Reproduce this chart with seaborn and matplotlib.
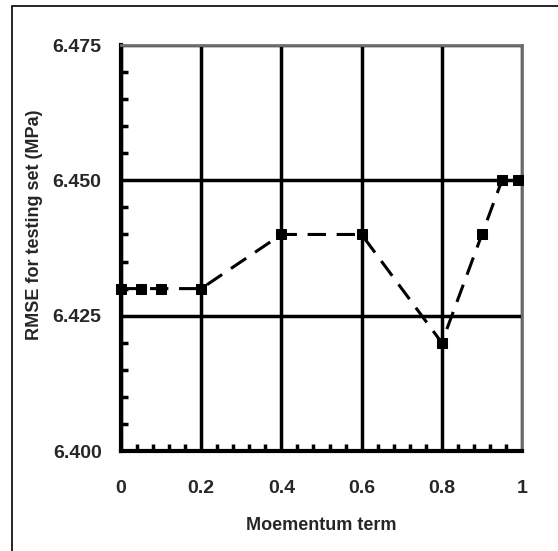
import numpy as np
import pandas as pd
import seaborn as sns
import matplotlib.pyplot as plt
from matplotlib.ticker import MultipleLocator, FixedFormatter, FixedLocator
from matplotlib.patches import Rectangle

sns.set_theme(style="white")
plt.rcParams['font.family'] = ['Liberation Sans', 'DejaVu Sans']

momentum = [0.0, 0.05, 0.1, 0.2, 0.4, 0.6, 0.8, 0.9, 0.95, 0.99]
rmse = [6.430, 6.430, 6.430, 6.430, 6.440, 6.440, 6.420, 6.440, 6.450, 6.450]
x_ticks = [0, 0.2, 0.4, 0.6, 0.8, 1.0]
x_labels = ['0', '0.2', '0.4', '0.6', '0.8', '1']
y_ticks = [6.400, 6.425, 6.450, 6.475]
y_labels = ['6.400', '6.425', '6.450', '6.475']

df = pd.DataFrame({"Moementum term": momentum, "RMSE": rmse})

fig = plt.figure(figsize=(5.58, 5.51), dpi=100)
ax = fig.add_axes([121 / 558, 1 - 451 / 551, 401 / 558, 406 / 551])

# outer frame of the figure
fig.patches.append(Rectangle((12 / 558, -0.1), 1.2, 1 - 6 / 551 + 0.1,
                             transform=fig.transFigure, fill=False,
                             edgecolor='black', linewidth=1.2))

sns.lineplot(data=df, x="Moementum term", y="RMSE", ax=ax, color='black',
             marker='s', markersize=6.5, markeredgecolor='black',
             linewidth=2.2, sort=False, zorder=5, clip_on=False)
ax.lines[0].set_linestyle((0, (6, 3.5)))

ax.set_xlim(0, 1)
ax.set_ylim(6.400, 6.475)
ax.xaxis.set_major_locator(FixedLocator(x_ticks))
ax.xaxis.set_major_formatter(FixedFormatter(x_labels))
ax.yaxis.set_major_locator(FixedLocator(y_ticks))
ax.yaxis.set_major_formatter(FixedFormatter(y_labels))
ax.xaxis.set_minor_locator(MultipleLocator(0.04))
ax.yaxis.set_minor_locator(MultipleLocator(0.005))

ax.grid(True, which='major', color='black', linewidth=2.5)
ax.tick_params(axis='both', which='major', direction='in', length=0,
               labelsize=14)
ax.tick_params(axis='y', which='major', pad=14)
ax.tick_params(axis='x', which='major', pad=21)
ax.tick_params(axis='both', which='minor', direction='in', length=5,
               width=2.5, color='black', bottom=True, left=True)
for lab in ax.get_xticklabels() + ax.get_yticklabels():
    lab.set_fontweight('bold')

for s in ['left', 'bottom']:
    ax.spines[s].set_color('black')
    ax.spines[s].set_linewidth(3)
for s in ['top', 'right']:
    ax.spines[s].set_color('#707070')
    ax.spines[s].set_linewidth(2)

ax.set_xlabel('Moementum term', fontsize=13, fontweight='bold')
ax.set_ylabel('RMSE for testing set (MPa)', fontsize=13, fontweight='bold')
ax.xaxis.set_label_coords(0.5, -(517 - 451) / 406)
ax.yaxis.set_label_coords(-(121 - 43) / 401, (451 - 225) / 406)

fig.savefig('out.png', dpi=100)
